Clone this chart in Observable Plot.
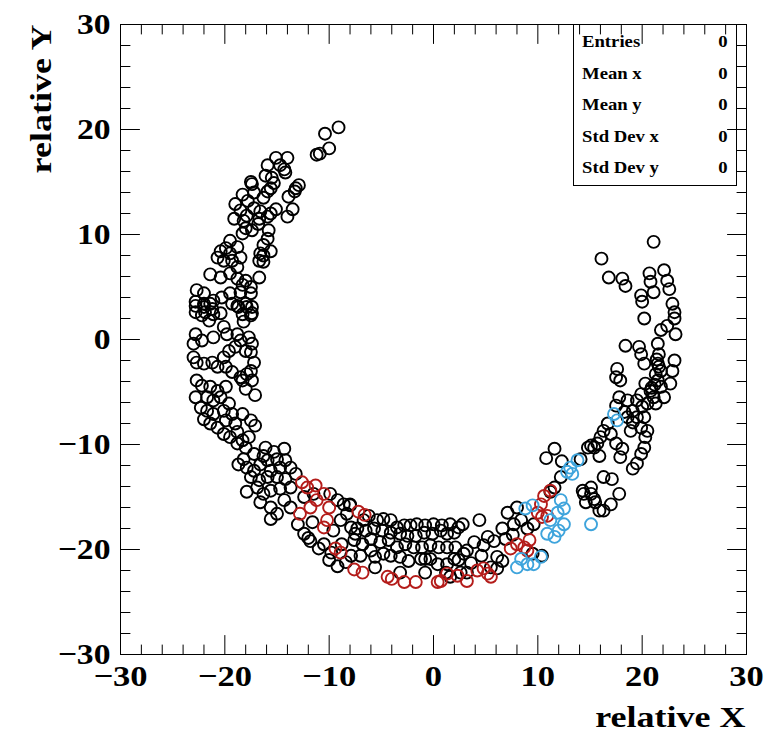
<!DOCTYPE html>
<html><head><meta charset="utf-8">
<script src="https://cdn.jsdelivr.net/npm/d3@7"></script>
<script src="https://cdn.jsdelivr.net/npm/@observablehq/plot@0.6"></script>
<style>
html,body{margin:0;padding:0;background:#fff;}
#chart{position:relative;width:769px;height:734px;}
.stats{position:absolute;left:573px;top:24px;width:164px;height:162px;border:1px solid #000;box-sizing:border-box;font-family:'Liberation Serif',serif;font-weight:bold;font-size:17px;color:#000;}
.stats div{position:absolute;white-space:nowrap;}
</style></head><body><div id="chart"></div>
<script>
const blackPts = [
[-9.1,20.2],[-10.4,19.6],[-10.0,18.2],[-11.2,17.6],[-10.9,17.7],[-15.1,17.3],[-14.0,17.3],[-15.9,16.6],[-14.7,16.6],[-14.2,15.9],[-14.3,16.2],[-16.1,15.6],[-15.5,15.4],[-15.3,14.9],[-15.6,14.4],[-17.5,15.0],[-17.4,14.8],[-12.9,14.7],[-13.2,14.4],[-13.3,14.1],[-13.9,13.6],[-18.3,13.8],[-17.2,14.0],[-17.8,13.2],[-16.3,13.5],[-15.9,14.1],[-13.5,12.4],[-14.0,11.7],[-15.1,12.4],[-17.2,12.5],[-16.6,12.2],[-16.7,11.5],[-15.9,11.7],[-15.6,12.0],[-19.0,12.9],[-18.5,12.3],[-19.1,11.5],[-17.9,11.8],[-18.2,11.3],[-18.0,10.6],[-18.3,10.1],[-17.4,10.4],[-16.8,11.0],[-15.8,10.4],[-15.9,9.6],[-16.3,9.0],[-16.6,8.2],[-15.6,8.4],[-16.3,8.0],[-16.7,7.5],[-16.3,7.4],[-16.7,5.9],[-19.5,9.4],[-19.9,8.7],[-20.4,8.4],[-18.8,8.8],[-19.5,8.2],[-20.7,7.8],[-20.1,7.5],[-19.3,7.5],[-18.5,7.8],[-18.8,6.9],[-21.4,6.2],[-20.4,5.9],[-19.5,6.3],[-18.8,5.8],[-18.0,5.6],[-17.5,5.0],[-18.3,5.2],[-22.7,4.7],[-22.0,4.4],[-22.8,3.6],[-22.0,3.4],[-21.1,3.7],[-20.3,4.0],[-19.5,4.4],[-18.5,4.5],[-17.5,4.4],[-22.8,2.6],[-21.9,2.6],[-21.2,2.9],[-20.4,2.5],[-19.3,3.4],[-18.7,3.1],[-17.9,3.1],[-17.4,2.5],
[-22.8,3.2],[-22.0,3.1],[-21.4,3.4],[-21.1,2.4],[-22.2,2.3],[-21.5,1.8],[-18.8,3.2],[-18.0,3.4],[-17.4,3.1],[-18.3,2.4],[-17.5,2.3],[-18.2,1.7],[-22.8,0.5],[-22.2,-0.1],[-23.0,-0.4],[-21.1,0.2],[-20.1,1.2],[-19.8,0.5],[-18.8,0.5],[-18.5,-0.1],[-17.7,0.2],[-19.0,-0.7],[-18.0,-1.1],[-17.5,-1.2],[-17.4,-0.4],[-19.6,-1.1],[-20.1,-1.7],[-23.0,-1.7],[-22.7,-2.2],[-22.0,-2.3],[-21.2,-2.2],[-20.7,-2.6],[-19.9,-2.6],[-19.3,-3.1],[-18.5,-3.6],[-17.9,-3.3],[-17.4,-3.9],[-18.3,-3.9],[-17.5,-3.0],[-17.2,-2.2],[-22.7,-3.9],[-22.2,-4.4],[-21.4,-4.5],[-20.7,-4.9],[-19.9,-4.5],[-22.8,-5.5],[-21.7,-5.5],[-21.1,-5.8],[-20.4,-5.5],[-19.6,-6.1],[-18.0,-4.7],[-17.1,-5.3],[-22.3,-6.5],[-21.7,-6.8],[-21.1,-7.1],[-20.1,-6.8],[-19.3,-7.1],[-22.0,-7.6],[-21.4,-8.0],[-20.7,-8.4],[-19.9,-7.7],[-19.0,-8.0],[-18.3,-7.1],[-17.5,-7.7],[-17.1,-8.2],[-20.1,-9.0],[-19.5,-9.3],[-18.8,-8.8],[-18.3,-9.6],[-17.7,-9.3],[-18.8,-9.9],[-18.0,-10.3],[-16.1,-10.3],[-15.3,-10.7],[-14.3,-10.4],[-16.3,-11.1],[-15.0,-11.4],[-17.2,-10.9],[-18.2,-11.4],[-18.7,-11.9],[-17.9,-12.2],[-17.2,-12.5],[-16.6,-11.9],[-15.9,-11.5],[-15.6,-12.5],[-14.7,-12.2],[-14.2,-11.5],[-13.7,-12.2],[-17.5,-13.1],[-16.7,-13.4],[-15.9,-13.1],[-15.0,-13.1],[-14.2,-13.3],[-13.2,-12.8],[-17.9,-14.5],[-16.9,-14.1],[-16.3,-14.7],[-15.6,-14.4],[-14.7,-14.2],[-13.7,-14.1],[-16.6,-15.5],[-15.6,-16.0],[-15.0,-16.6],[-15.6,-17.1],[-14.3,-15.3],[-13.7,-16.0],[-12.4,-15.0],[-11.5,-14.7],[-9.9,-14.7],[-9.2,-15.3],[-8.6,-15.7],[-8.0,-15.7],[-12.4,-18.5],[-11.8,-19.2],[-8.9,-17.2],[-9.6,-18.2],[-8.3,-16.6],[-7.5,-18.5],[-6.7,-17.2],
[-10.5,-19.5],[-9.8,-20.3],[-8.4,-21.2],[-8.8,-19.5],[-7.9,-20.6],[-12.0,-18.9],[-11.0,-19.9],[-10.0,-21.0],[-9.2,-21.6],[-13.0,-17.6],[-11.6,-17.4],
[15.1,-10.1],[15.9,-11.1],[14.1,-11.4],[12.2,-13.1],[11.2,-14.5],[11.6,-14.1],[14.3,-14.4],[15.1,-14.7],[15.5,-15.5],[14.6,-15.5],[15.9,-16.3],[7.1,-16.5],[8.0,-16.0],[8.4,-17.2],[7.7,-17.6],[6.6,-18.0],[9.0,-18.0],[9.6,-17.6],[4.4,-17.2],[5.2,-18.8],[3.9,-19.3],[3.2,-20.1],[9.5,-20.4],[10.4,-20.6],[6.1,-20.7],[6.6,-21.1],[5.5,-21.7],
[4.8,-19.6],[5.8,-19.2],[6.9,-19.0],[7.6,-18.6],[3.6,-21.3],[2.4,-21.0],[4.6,-20.6],
[-8.0,-15.8],[-6.2,-16.8],[-5.4,-17.2],[-4.8,-17.1],[-4.1,-17.2],[-3.5,-17.9],[-2.8,-17.7],[-2.2,-17.7],[-1.6,-17.6],[-0.8,-17.7],[0.0,-17.6],[0.8,-17.7],[1.6,-17.6],[2.4,-17.9],[2.8,-17.6],[2.0,-18.4],[1.3,-18.5],[0.7,-18.2],[-0.1,-18.5],[-0.9,-18.4],[-1.7,-18.7],[-2.5,-18.7],[-3.2,-18.5],[-4.1,-18.4],[-4.9,-18.2],[-5.7,-18.0],[-6.5,-18.2],[-7.3,-18.0],[-7.9,-17.9],
[-7.6,-19.1],[-6.8,-19.5],[-6.0,-19.0],[-5.1,-19.3],[-4.3,-19.1],[-3.5,-19.8],[-2.7,-19.5],[-1.9,-19.8],[-1.1,-19.8],[-0.3,-19.6],[0.5,-19.8],[1.3,-19.8],[2.1,-19.8],
[-1.2,-20.9],[-0.8,-20.9],[-0.3,-20.9],[-7.0,-20.6],[-6.0,-20.1],[-5.6,-20.7],[-4.8,-20.4],[-4.1,-20.6],[-3.2,-20.7],[-2.4,-21.1],[0.4,-21.4],[1.3,-21.4],[2.0,-20.9],[2.9,-20.4],
[-5.6,-21.7],[-3.2,-22.2],[-0.8,-22.2],[1.2,-22.2],[1.6,-22.6],[2.6,-22.2],[3.2,-22.2],[6.1,-21.8],
[21.1,9.3],[16.1,7.7],[16.8,5.9],[18.1,5.8],[18.4,5.1],[20.7,6.3],[20.8,5.5],[21.1,4.5],[22.1,6.6],[22.4,5.6],[22.6,4.8],[19.9,4.2],[20.0,3.6],[20.2,2.0],[22.9,3.4],[23.1,2.6],[23.1,2.0],[23.2,0.5],[21.8,0.9],[22.4,1.3],[18.4,-0.6],[19.7,-0.7],[19.9,-1.4],[20.2,-2.3],[21.5,-0.4],[21.6,-1.4],[21.5,-2.3],[21.8,-3.0],[21.3,-3.3],[21.5,-3.9],[23.1,-2.0],[22.9,-3.0],[22.7,-4.2],[17.6,-2.8],[17.5,-3.6],[17.9,-3.9],[20.3,-4.2],[19.9,-5.2],[19.5,-5.8],[20.8,-4.9],[21.1,-5.5],[21.8,-4.5],[21.3,-6.1],[22.1,-5.5],[17.8,-5.5],[17.5,-6.3],[18.6,-5.8],[19.1,-6.8],[18.3,-6.9],[16.7,-8.0],[16.3,-8.7],[16.0,-9.3],[15.7,-9.9],[15.4,-10.3],[14.8,-10.3],[17.0,-9.0],[17.5,-9.9],[18.1,-10.4],[17.9,-11.2],[18.9,-8.7],[19.9,-8.4],[20.3,-9.3],[20.2,-10.3],[19.9,-10.9],[19.5,-11.8],[19.1,-12.3],[20.5,-8.7],[16.3,-13.1],[17.1,-13.3],[17.8,-14.7],[17.0,-15.7],[16.3,-16.3],[15.1,-14.1],[14.4,-14.7],[15.4,-15.2],[20.5,-6.1],[20.0,-6.4],[19.5,-7.4],[18.6,-7.4],[19.1,-7.9],[20.2,-7.4],
[21.4,-1.9],[21.6,-2.6],[21.2,-4.3],[20.9,-4.6],[10.8,-11.3],[11.6,-10.4],[12.3,-11.6]
];
const redPts = [
[-12.6,-13.6],[-12.1,-14.1],[-11.3,-13.9],[-10.5,-14.7],[-11.2,-15.3],[-10.0,-16.0],[-11.8,-16.0],[-12.8,-16.6],[-10.5,-17.9],[-10.2,-17.2],[-7.2,-16.4],[-6.6,-16.7],
[-9.4,-19.9],[-8.9,-20.3],[-7.6,-21.9],
[11.2,-14.4],[10.6,-14.9],[10.3,-15.7],[10.0,-16.5],[10.4,-16.9],[10.9,-16.8],[8.0,-19.5],[8.7,-19.8],[7.4,-19.9],[9.0,-20.1],[9.2,-19.1],[4.2,-22.0],[4.8,-21.8],[5.2,-22.3],[5.5,-22.6],[-6.8,-22.2],[-4.4,-22.6],[-4.0,-22.8],[-2.8,-23.1],[-1.7,-23.1],[0.4,-23.1],[0.7,-23.0],[1.3,-22.3],[2.3,-22.5],[3.2,-23.0]
];
const bluePts = [
[13.1,-12.2],[12.8,-12.6],[13.3,-12.8],[13.8,-11.5],[8.8,-16.1],[9.5,-15.8],[12.2,-15.3],[12.5,-16.1],[11.9,-16.5],[11.2,-17.2],[10.9,-18.5],[11.6,-18.8],[12.0,-18.2],[12.5,-17.6],[15.1,-17.6],[8.0,-21.7],[9.0,-21.4],[9.6,-21.4],[10.3,-20.7],[8.4,-20.9],[17.3,-7.1],[17.6,-7.7]
];
const majorTicks = [-30,-20,-10,0,10,20,30];
const minorTicks = [-28,-26,-24,-22,-18,-16,-14,-12,-8,-6,-4,-2,2,4,6,8,12,14,16,18,22,24,26,28];
const statsLabels = ["Entries","Mean x","Mean y","Std Dev x","Std Dev y"];
const statsValues = ["0","0","0","0","0"];
const xTitle = "relative X";
const yTitle = "relative Y";

const FONT = "'Liberation Serif', 'Times New Roman', serif";
const fmt = d => d < 0 ? "\u2212" + (-d) : String(d);
const tickLine = {draw(ctx, l) { ctx.moveTo(0, 0); ctx.lineTo(0, -l); }};
function tickMarks(values, axis, len) {
  const specs = axis === "x" ? [["bottom", 0], ["top", 180]] : [["left", 90], ["right", -90]];
  return specs.map(([fa, rot]) => Plot.vector(values, {
    [axis]: d => d, frameAnchor: fa, rotate: rot, length: len, anchor: "start",
    shape: tickLine, stroke: "black", strokeWidth: 1
  }));
}
const dotOpts = (color) => ({x: d => d[0], y: d => d[1], r: 6, stroke: color, strokeWidth: 1.9, fill: "none"});

const chart = Plot.plot({
  width: 769, height: 734,
  marginLeft: 120, marginRight: 23, marginTop: 24, marginBottom: 80,
  x: {domain: [-30, 30]},
  y: {domain: [-30, 30]},
  style: {fontFamily: FONT, background: "white", color: "black"},
  marks: [
    Plot.dot(blackPts, dotOpts("black")),
    Plot.dot(redPts, dotOpts("#b41c1a")),
    Plot.dot(bluePts, dotOpts("#3ea4dc")),
    Plot.frame({stroke: "black", strokeWidth: 1}),
    ...tickMarks(majorTicks, "x", 19),
    ...tickMarks(minorTicks, "x", 9.5),
    ...tickMarks(majorTicks, "y", 19),
    ...tickMarks(minorTicks, "y", 9.5),
    Plot.axisX(majorTicks, {anchor: "bottom", tickSize: 0, tickPadding: 10, tickFormat: fmt, fontSize: 30, fontWeight: "bold", fontFamily: FONT, fill: "black"}),
    Plot.axisY(majorTicks, {anchor: "left", tickSize: 0, tickPadding: 10, tickFormat: fmt, fontSize: 30, fontWeight: "bold", fontFamily: FONT, fill: "black", label: null}),
    Plot.text([xTitle], {text: d => d, frameAnchor: "bottom-right", textAnchor: "end", lineAnchor: "bottom", dx: -1, dy: 72, fontSize: 30, fontWeight: "bold", fontFamily: FONT, fill: "black"}),
    Plot.text([yTitle], {text: d => d, frameAnchor: "top-left", rotate: -90, textAnchor: "end", lineAnchor: "bottom", dx: -70, dy: 0, fontSize: 30, fontWeight: "bold", fontFamily: FONT, fill: "black"})
  ]
});
const root = document.getElementById("chart");
root.appendChild(chart);

// horizontal stretch of the bold serif texts, like the reference rendering
function stretch(sel, f) {
  chart.querySelectorAll(sel).forEach(t => {
    const w = t.getComputedTextLength();
    t.setAttribute("textLength", (w * f).toFixed(1));
    t.setAttribute("lengthAdjust", "spacingAndGlyphs");
  });
}
stretch('g[aria-label="x-axis tick label"] text', 1.15);
stretch('g[aria-label="y-axis tick label"] text', 1.12);
stretch('g[aria-label="text"] text', 1.2);

const box = document.createElement("div");
box.className = "stats";
statsLabels.forEach((lab, i) => {
  const top = 17 + i * 31.6;
  const a = document.createElement("div");
  a.textContent = lab; a.style.left = "8px"; a.style.top = top + "px";
  a.style.transform = "translateY(-50%) scaleX(1.1)"; a.style.transformOrigin = "left center";
  const b = document.createElement("div");
  b.textContent = statsValues[i]; b.style.right = "9px"; b.style.top = top + "px";
  b.style.transform = "translateY(-50%) scaleX(1.1)"; b.style.transformOrigin = "right center";
  box.appendChild(a); box.appendChild(b);
});
root.appendChild(box);
</script></body></html>
